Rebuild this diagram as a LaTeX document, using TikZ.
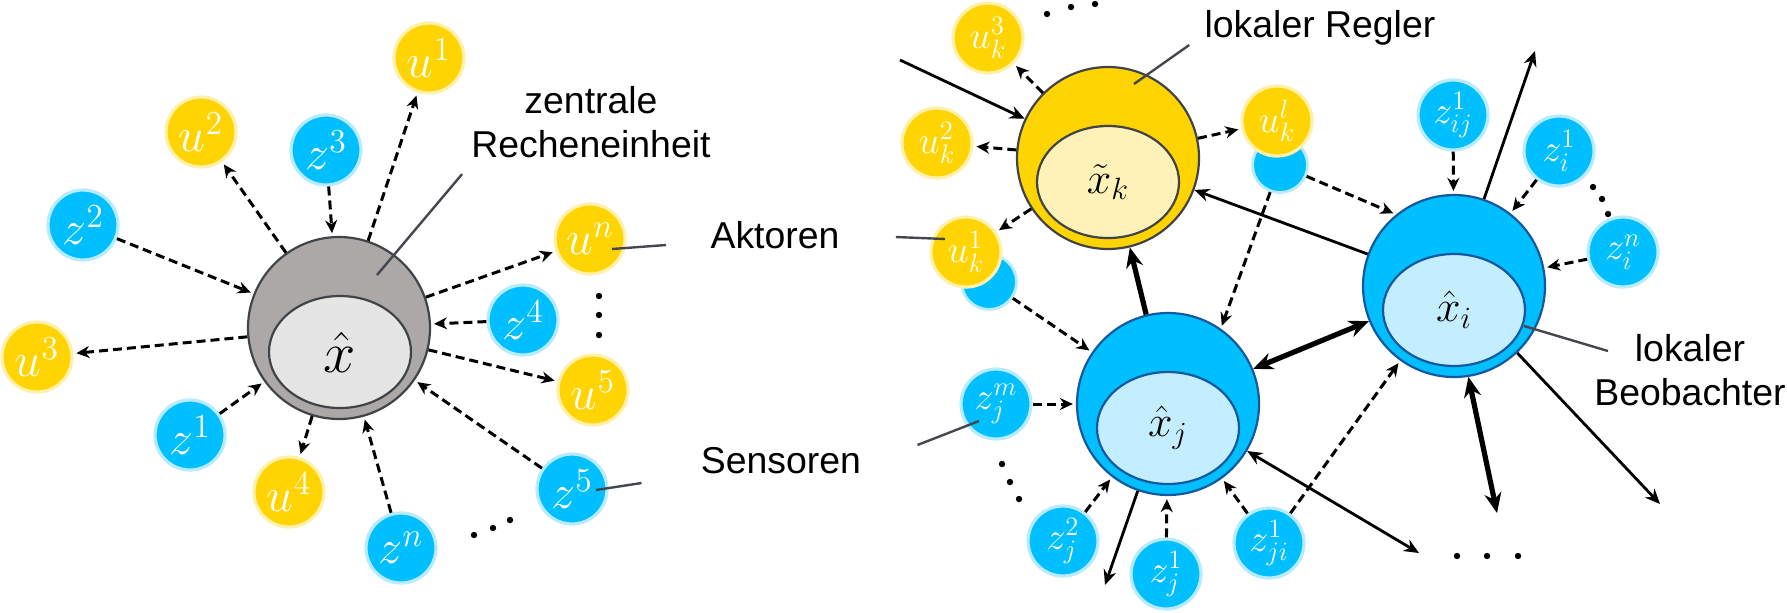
\RequirePackage{fix-cm}
\documentclass[tikz,border=0pt]{standalone}
\usepackage{fontspec}
\setsansfont{Liberation Sans}
\usetikzlibrary{shapes.geometric, arrows.meta, calc}

\definecolor{ugold}{RGB}{255,212,0}
\definecolor{ugoldrim}{RGB}{255,240,170}
\definecolor{zblue}{RGB}{0,191,255}
\definecolor{zbluerim}{RGB}{185,235,255}
\definecolor{ringgray}{RGB}{172,168,168}
\definecolor{coregray}{RGB}{229,229,229}
\definecolor{coreyellow}{RGB}{255,242,185}
\definecolor{coreblue}{RGB}{195,238,255}
\definecolor{edgegray}{RGB}{64,68,72}
\definecolor{edgeblue}{RGB}{22,88,160}
\definecolor{pointergray}{RGB}{68,72,78}

\begin{document}
\begin{tikzpicture}[
    x=0.5pt, y=-0.5pt,
    uball/.style={circle, fill=ugold, draw=ugoldrim, line width=1.6pt, minimum size=35pt, inner sep=0pt, text=white, font=\fontsize{24}{28}\selectfont},
    zball/.style={uball, fill=zblue, draw=zbluerim},
    ukball/.style={uball, font=\fontsize{19}{22}\selectfont},
    zkball/.style={zball, font=\fontsize{19}{22}\selectfont},
    hidball/.style={circle, fill=zblue, draw=zbluerim, line width=1.4pt, minimum size=27.5pt, inner sep=0pt},
    ring/.style={circle, draw=edgegray, line width=1.1pt, minimum size=91pt, inner sep=0pt},
    core/.style={ellipse, draw=edgegray, line width=1.1pt, minimum width=71pt, minimum height=56pt, inner sep=0pt, font=\fontsize{22}{26}\selectfont},
    dasharrow/.style={-{Stealth[length=6.5pt, width=6pt]}, line width=1.5pt, dash pattern=on 4.5pt off 2.5pt, shorten >=1.5pt},
    linkarrow/.style={-{Stealth[length=7.5pt, width=6.5pt]}, line width=1.4pt},
    linkboth/.style={{Stealth[length=7.5pt, width=6.5pt]}-{Stealth[length=7.5pt, width=6.5pt]}, line width=1.4pt},
    heavyarrow/.style={-{Stealth[length=10pt, width=8.5pt]}, line width=2.6pt},
    heavyboth/.style={{Stealth[length=10pt, width=8.5pt]}-{Stealth[length=10pt, width=8.5pt]}, line width=2.6pt},
    pointer/.style={draw=pointergray, line width=1.2pt},
    tag/.style={font=\sffamily\fontsize{18.7}{22}\selectfont, align=center, inner sep=0pt}
]
\useasboundingbox (0,0) rectangle (1787,612);

% Central estimator
\node[ring, fill=ringgray] (cx) at (339,328) {};
\node[core, fill=coregray, font=\fontsize{29}{32}\selectfont] (cxcore) at (340,352) {$\hat{x}$};

\node[uball] (u1) at (429,58) {$u^1$};
\node[uball] (u2) at (201,132) {$u^2$};
\node[uball] (u3) at (37,357) {$u^3$};
\node[uball] (u4) at (289,492) {$u^4$};
\node[uball] (u5) at (593,390) {$u^5$};
\node[uball] (un) at (590,239) {$u^n$};
\node[zball] (z1) at (190,435) {$z^1$};
\node[zball] (z2) at (83,225) {$z^2$};
\node[zball] (z3) at (326,150) {$z^3$};
\node[zball] (z4) at (523,320) {$z^4$};
\node[zball] (z5) at (572,489) {$z^5$};
\node[zball] (zn) at (401,548) {$z^n$};

\draw[dasharrow] (cx) -- (u1);
\draw[dasharrow] (cx) -- (u2);
\draw[dasharrow] (z3) -- (cx);
\draw[dasharrow] (z2) -- (cx);
\draw[dasharrow] (cx) -- (u3);
\draw[dasharrow] (z1) -- (cx);
\draw[dasharrow] (cx) -- (u4);
\draw[dasharrow] (zn) -- (cx);
\draw[dasharrow] (z5) -- (cx);
\draw[dasharrow] (cx) -- (u5);
\draw[dasharrow] (z4) -- (cx);
\draw[dasharrow] (cx) -- (un);

\fill (599,296) circle (1.6pt) (599,315) circle (1.6pt) (599,335) circle (1.6pt);
\fill (474,535) circle (1.6pt) (493,528) circle (1.6pt) (510,520) circle (1.6pt);

% Labels
\node[tag] (central) at (591,122) {zentrale\\Recheneinheit};
\node[tag] (actors) at (775,235) {Aktoren};
\node[tag] (sensors) at (781,461) {Sensoren};
\node[tag] (ctrl) at (1320,28) {lokaler Regler};
\node[tag] (obs) at (1690,370) {lokaler\\Beobachter};

% Local units
\node[ring, fill=ugold] (xk) at (1108,158) {};
\node[core, fill=coreyellow] (xkcore) at (1108,182) {$\tilde{x}_k$};
\node[ring, fill=zblue, draw=edgeblue] (xj) at (1168,404) {};
\node[core, fill=coreblue, draw=edgeblue] (xjcore) at (1168,428) {$\hat{x}_j$};
\node[ring, fill=zblue, draw=edgeblue] (xi) at (1454,286) {};
\node[core, fill=coreblue, draw=edgeblue] (xicore) at (1454,310) {$\hat{x}_i$};

\node[hidball] (uk1b) at (989,282) {};
\node[ukball] (uk1) at (966,252) {$u_k^1$};
\node[ukball] (uk2) at (937,143) {$u_k^2$};
\node[ukball] (uk3) at (988,38) {$u_k^3$};
\node[hidball] (uklb) at (1280,165) {};
\node[ukball] (ukl) at (1277,121) {$u_k^l$};
\node[zkball] (zij) at (1453,115) {$z_{ij}^1$};
\node[zkball] (zi1) at (1559,151) {$z_i^1$};
\node[zkball] (zin) at (1623,252) {$z_i^n$};
\node[zkball] (zjm) at (996,404) {$z_j^m$};
\node[zkball] (zj2) at (1063,541) {$z_j^2$};
\node[zkball] (zj1) at (1166,574) {$z_j^1$};
\node[zkball] (zji) at (1269,543) {$z_{ji}^1$};

\coordinate (kin) at (900,60);
\coordinate (iup) at (1535,51);
\coordinate (idown) at (1660,504);
\coordinate (jout) at (1105,585);
\coordinate (jdots) at (1419,553);
\coordinate (ibottom) at (1497,513);

% Dashed links
\draw[dasharrow] (xk) -- (uk3);
\draw[dasharrow] (xk) -- (uk2);
\draw[dasharrow] (xk) -- (uk1);
\draw[dasharrow] (xk) -- (ukl);
\draw[dasharrow] (uk1b) -- (xj);
\draw[dasharrow] (uklb) -- (xi.129);
\draw[dasharrow] (uklb) -- (xj.55);
\draw[dasharrow] (zij) -- (xi);
\draw[dasharrow] (zi1) -- (xi);
\draw[dasharrow] (zin) -- (xi);
\draw[dasharrow] (zjm) -- (xj);
\draw[dasharrow] (zj2) -- (xj);
\draw[dasharrow] (zj1) -- (xj);
\draw[dasharrow] (zji) -- (xj);
\draw[dasharrow] (zji) -- (xi);

% Solid links
\draw[linkarrow] (kin) -- (xk);
\draw[linkarrow] (xi) -- (xk);
\draw[linkarrow] (xi) -- (iup);
\draw[linkarrow] (xi) -- (idown);
\draw[linkarrow] (xj) -- (jout);
\draw[linkboth] (xj) -- (jdots);
\draw[heavyarrow] (xj) -- (xk);
\draw[heavyboth] (xj) -- (xi);
\draw[heavyboth] (xi.-81) -- (ibottom);

\fill (1047,14) circle (1.6pt) (1071,7) circle (1.6pt) (1095,4) circle (1.6pt);
\fill (1002,464) circle (1.6pt) (1010,482) circle (1.6pt) (1019,499) circle (1.6pt);
\fill (1593,187) circle (1.6pt) (1602,199) circle (1.6pt) (1608,214) circle (1.6pt);
\fill (1457,556) circle (1.6pt) (1487,556) circle (1.6pt) (1518,556) circle (1.6pt);

% Pointer lines
\coordinate (centraltip) at (377,275);
\coordinate (untip) at (612,249);
\coordinate (uk1tip) at (945,239);
\coordinate (z5tip) at (596,490);
\coordinate (zjmtip) at (979,421);
\coordinate (xktip) at (1134,84);
\coordinate (xitip) at (1524,326);
\draw[pointer] ([shift={(-9,16)}]central.south west) -- (centraltip);
\draw[pointer] (untip) -- ([shift={(-44,10)}]actors.west);
\draw[pointer] ([shift={(56,2)}]actors.east) -- (uk1tip);
\draw[pointer] (z5tip) -- ([shift={(-59,22)}]sensors.west);
\draw[pointer] ([shift={(56,-16)}]sensors.east) -- (zjmtip);
\draw[pointer] ([shift={(-15,17)}]ctrl.west) -- (xktip);
\draw[pointer] (xitip) -- ([shift={(14,-19)}]obs.west);

\end{tikzpicture}
\end{document}
